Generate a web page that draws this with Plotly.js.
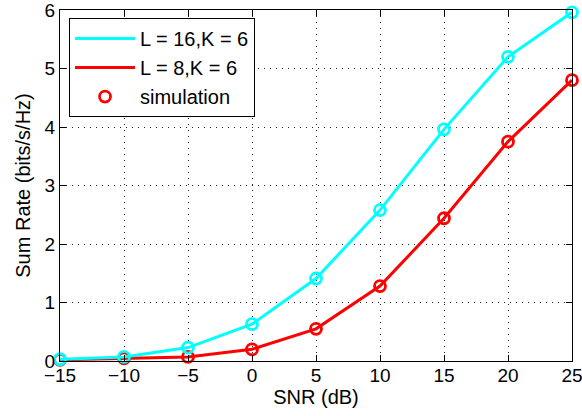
<!DOCTYPE html>
<html>
<head>
<meta charset="utf-8">
<script src="https://cdn.plot.ly/plotly-3.0.1.min.js"></script>
<style>html,body{margin:0;padding:0;background:#fff;}#chart{width:582px;height:416px;}</style>
</head>
<body>
<div id="chart"></div>
<script>
var snr = [-15, -10, -5, 0, 5, 10, 15, 20, 25];
var rateL16 = [0.03, 0.07, 0.23, 0.63, 1.41, 2.58, 3.96, 5.20, 5.96];
var rateL8 = [0.02, 0.045, 0.07, 0.20, 0.55, 1.28, 2.44, 3.75, 4.80];
var nameL16 = 'L = 16,K = 6';
var nameL8 = 'L = 8,K = 6';
var nameSim = 'simulation';
var xTicks = [-15, -10, -5, 0, 5, 10, 15, 20, 25];
var yTicks = [0, 1, 2, 3, 4, 5, 6];

var cyan = '#00FFFF';
var red = '#FF0000';
var fam = 'Liberation Sans, Arial, sans-serif';

var traces = [
  {x: snr, y: rateL8, mode: 'lines', name: nameL8, line: {color: red, width: 3}, legendrank: 2, cliponaxis: false},
  {x: snr, y: rateL8, mode: 'markers', name: nameSim, marker: {symbol: 'circle-open', size: 11, color: red, line: {width: 2.8, color: red}}, legendrank: 3, cliponaxis: false},
  {x: snr, y: rateL16, mode: 'lines', name: nameL16, line: {color: cyan, width: 3}, legendrank: 1, cliponaxis: false},
  {x: snr, y: rateL16, mode: 'markers', name: 'cyan sim', showlegend: false, marker: {symbol: 'circle-open', size: 11, color: cyan, line: {width: 2.8, color: cyan}}, cliponaxis: false}
];

var axisCommon = {
  showline: true, linecolor: '#000', linewidth: 1.2, mirror: 'ticks',
  ticks: 'inside', ticklen: 6, tickcolor: '#000', tickwidth: 1,
  showgrid: true, gridcolor: '#222', gridwidth: 1, griddash: '1px,5px',
  zeroline: false, ticklabeloverflow: 'allow',
  tickfont: {family: fam, size: 19, color: '#000'}
};

var layout = {
  width: 582, height: 416,
  margin: {l: 60, r: 10, t: 10, b: 55},
  paper_bgcolor: '#fff', plot_bgcolor: '#fff',
  font: {family: fam, color: '#000'},
  xaxis: Object.assign({}, axisCommon, {
    range: [-15, 25], tickvals: xTicks, ticklabelstandoff: -3,
    title: {text: 'SNR (dB)', font: {size: 20, family: fam}, standoff: 2}
  }),
  yaxis: Object.assign({}, axisCommon, {
    range: [0, 6], tickvals: yTicks,
    title: {text: 'Sum Rate (bits/s/Hz)', font: {size: 20, family: fam}, standoff: 8}
  }),
  showlegend: true,
  legend: {
    x: 0.0176, y: 0.977, xanchor: 'left', yanchor: 'top',
    bgcolor: '#fff', bordercolor: '#000', borderwidth: 1,
    font: {size: 20, family: fam, color: '#000'},
    itemwidth: 60, tracegroupgap: 0
  }
};

Plotly.newPlot('chart', traces, layout, {displayModeBar: false, staticPlot: true});
</script>
</body>
</html>
